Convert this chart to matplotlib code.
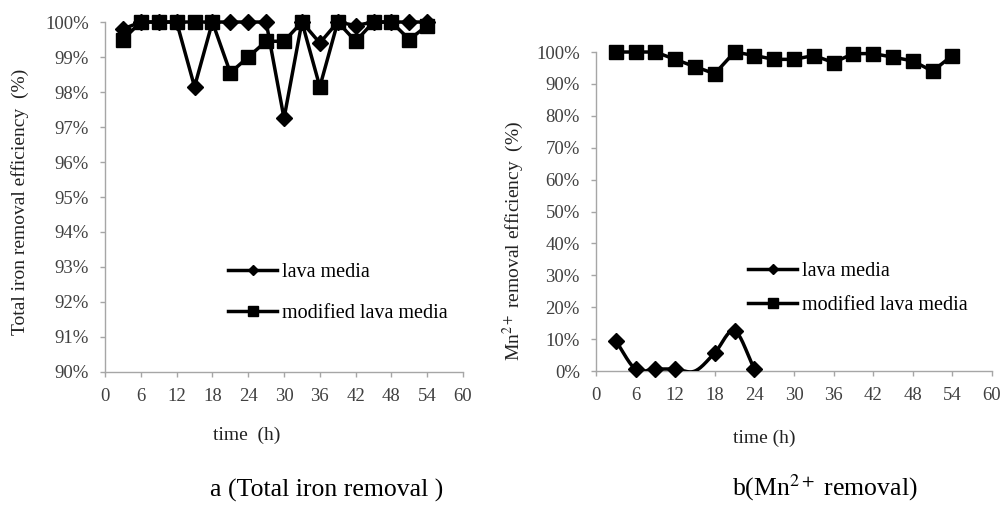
import matplotlib
matplotlib.use("Agg")
import matplotlib.pyplot as plt
from matplotlib.lines import Line2D
from matplotlib.ticker import FuncFormatter, MultipleLocator
import numpy as np

plt.rcParams["font.family"] = ["Liberation Serif", "DejaVu Serif"]
plt.rcParams["mathtext.fontset"] = "stix"

# sampling times (h)
time_h = [3, 6, 9, 12, 15, 18, 21, 24, 27, 30, 33, 36, 39, 42, 45, 48, 51, 54]

# a) total iron removal efficiency (%)
fe_lava = [99.8, 100, 100, 100, 98.15, 100, 100, 100, 100, 97.25,
           100, 99.4, 100, 99.9, 100, 100, 100, 100]
fe_modified = [99.5, 100, 100, 100, 100, 100, 98.55, 99.0, 99.45, 99.45,
               100, 98.15, 100, 99.45, 100, 100, 99.5, 99.9]

# b) Mn2+ removal efficiency (%)
mn_lava_time = [3, 6, 9, 12, 15, 18, 21, 24]
mn_lava = [9.5, 0.6, 0.6, 0.6, 0.0, 5.7, 12.6, 0.6]
mn_lava_shown = [True, True, True, True, False, True, True, True]
mn_modified = [100, 100, 100, 97.7, 95.4, 93.2, 100, 98.9, 97.7, 97.7,
               98.9, 96.7, 99.5, 99.5, 98.4, 97.2, 94.0, 98.9]

x_ticks = [0, 6, 12, 18, 24, 30, 36, 42, 48, 54, 60]

AXIS_GRAY = "#a6a6a6"
TICK_TXT = "#404040"
TICK_FS = 13.5
LABEL_FS = 14


def smooth(xs, ys, n=30):
    # Catmull-Rom curve through the points (Excel style smoothed line)
    xs = np.asarray(xs, float)
    ys = np.asarray(ys, float)
    px = np.concatenate([[2 * xs[0] - xs[1]], xs, [2 * xs[-1] - xs[-2]]])
    py = np.concatenate([[2 * ys[0] - ys[1]], ys, [2 * ys[-1] - ys[-2]]])
    outx, outy = [], []
    t = np.linspace(0, 1, n)
    for i in range(1, len(px) - 2):
        for p, out in ((px, outx), (py, outy)):
            p0, p1, p2, p3 = p[i - 1], p[i], p[i + 1], p[i + 2]
            out.extend(0.5 * ((2 * p1) + (-p0 + p2) * t
                              + (2 * p0 - 5 * p1 + 4 * p2 - p3) * t ** 2
                              + (-p0 + 3 * p1 - 3 * p2 + p3) * t ** 3))
    return outx, outy


def style_axes(ax):
    for side in ("top", "right"):
        ax.spines[side].set_visible(False)
    for side in ("left", "bottom"):
        ax.spines[side].set_color(AXIS_GRAY)
        ax.spines[side].set_linewidth(1.0)
    ax.set_xlim(0, 60)
    ax.set_xticks(x_ticks)
    ax.tick_params(direction="out", length=3.6, width=1.0, color=AXIS_GRAY,
                   labelsize=TICK_FS, labelcolor=TICK_TXT, pad=8.0)
    ax.yaxis.set_major_formatter(FuncFormatter(lambda v, _: f"{v:.0f}%"))


def legend(ax, x_px, y_px, spacing):
    handles = [
        Line2D([], [], color="black", lw=2.5, marker="D", ms=5),
        Line2D([], [], color="black", lw=2.5, marker="s", ms=7),
    ]
    ax.legend(handles, ["lava media", "modified lava media"],
              loc="upper left", bbox_to_anchor=(x_px / 1004, 1 - y_px / 505),
              bbox_transform=fig.transFigure, frameon=False, borderpad=0,
              borderaxespad=0, handlelength=2.45, handletextpad=0.25,
              labelspacing=spacing, prop={"size": 14.5}, numpoints=1)


fig = plt.figure(figsize=(10.04, 5.05), dpi=100)
fig.patch.set_facecolor("white")

# ---- a: total iron ----
ax1 = fig.add_axes([0.1046, 0.2634, 0.3566, 0.693])
style_axes(ax1)
ax1.set_ylim(90, 100)
ax1.yaxis.set_major_locator(MultipleLocator(1))
ax1.plot(time_h, fe_lava, color="black", lw=2.5, marker="D", ms=8.5,
         clip_on=False, zorder=3)
ax1.plot(time_h, fe_modified, color="black", lw=2.5, marker="s", ms=10,
         clip_on=False, zorder=4)
legend(ax1, 228, 263, 1.1)

# ---- b: Mn2+ ----
ax2 = fig.add_axes([0.5936, 0.2653, 0.3944, 0.6317])
style_axes(ax2)
ax2.set_ylim(0, 100)
ax2.yaxis.set_major_locator(MultipleLocator(10))
sx, sy = smooth(mn_lava_time, mn_lava)
ax2.plot(sx, sy, color="black", lw=2.5, zorder=3)
ax2.plot(mn_lava_time, mn_lava, color="black", lw=0, marker="D", ms=8,
         markevery=mn_lava_shown, clip_on=False, zorder=3)
ax2.plot(time_h, mn_modified, color="black", lw=2.5, marker="s", ms=10.5,
         clip_on=False, zorder=4)
legend(ax2, 748, 262, 0.75)

# axis titles and captions
fig.text(20 / 1004, 1 - 202 / 505, "Total iron removal efficiency  (%)",
         rotation=90, ha="center", va="center", fontsize=LABEL_FS, color="#222222")
fig.text(513 / 1004, 1 - 241 / 505, "Mn$^{2+}$ removal efficiency  (%)",
         rotation=90, ha="center", va="center", fontsize=LABEL_FS, color="#222222")
fig.text(247 / 1004, 1 - 435 / 505, "time  (h)", ha="center", va="center",
         fontsize=LABEL_FS, color="#222222")
fig.text(764 / 1004, 1 - 438 / 505, "time (h)", ha="center", va="center",
         fontsize=LABEL_FS, color="#222222")
fig.text(327 / 1004, 1 - 490 / 505, "a (Total iron removal )", ha="center",
         va="center", fontsize=18.5, color="black")
fig.text(825 / 1004, 1 - 488 / 505, "b(Mn$^{2+}$ removal)", ha="center",
         va="center", fontsize=18.5, color="black")

fig.savefig("out.png", dpi=100, facecolor="white")
